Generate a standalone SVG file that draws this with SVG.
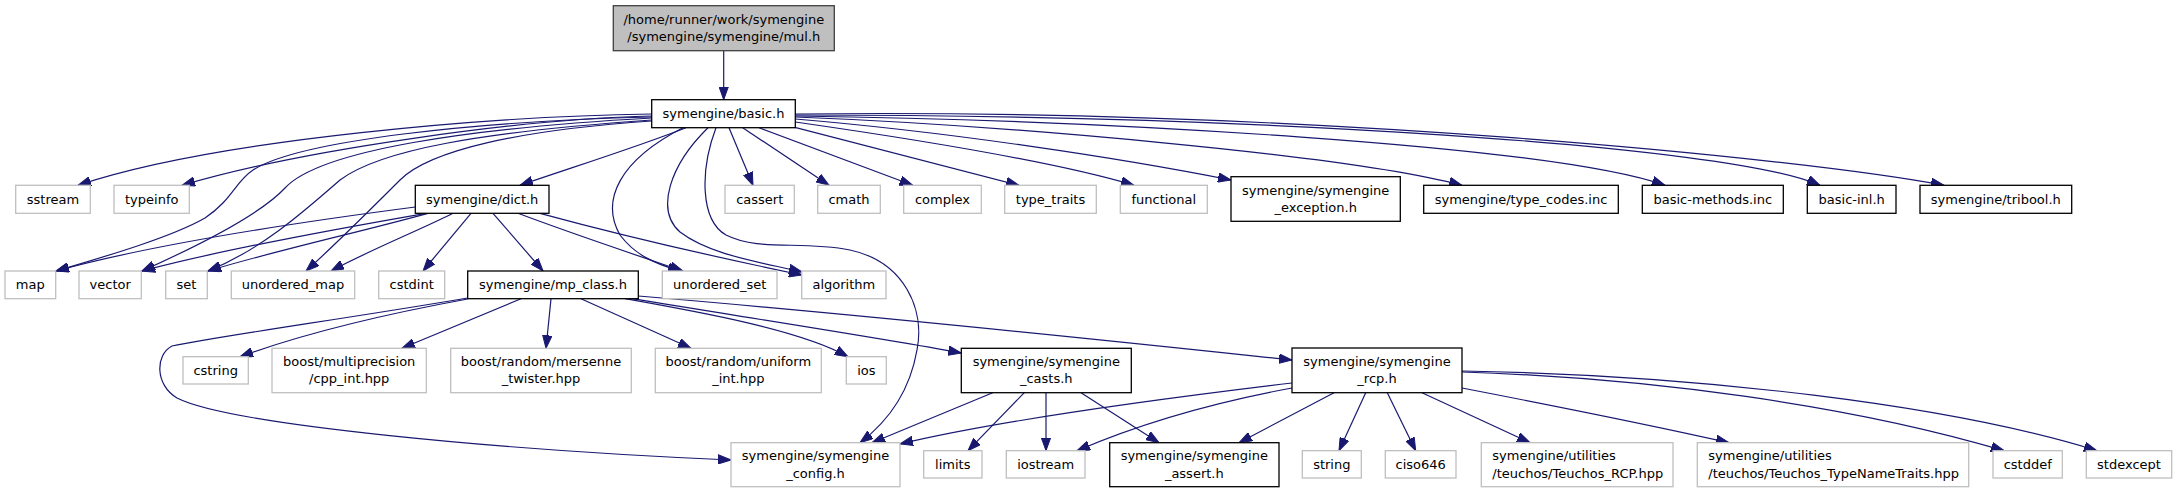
<svg xmlns="http://www.w3.org/2000/svg" width="2177" height="493" viewBox="0 0 2177 493">
<style>
rect.g{fill:#fff;stroke:#bfbfbf;stroke-width:1.3}
rect.b{fill:#fff;stroke:#000;stroke-width:1.3}
rect.m{fill:#bfbfbf;stroke:#404040;stroke-width:1.3}
text{font-family:"DejaVu Sans","Liberation Sans",sans-serif;font-size:13px;fill:#000;text-anchor:middle}
text.l{text-anchor:start}
#edges path{fill:none;stroke:#191970;stroke-width:1.2;marker-end:url(#a)}
</style>
<defs>
<marker id="a" markerUnits="userSpaceOnUse" markerWidth="14" markerHeight="10" refX="13" refY="5" orient="auto" viewBox="0 0 14 10">
<path d="M0,0.3 L13,5 L0,9.7z" fill="#191970" stroke="#191970" stroke-width="1"/>
</marker>
</defs>
<rect width="2177" height="493" fill="#fff"/>
<g id="edges">
<path d="M723.7,50.7 L723.7,99.7"/>
<path d="M651.7,114 C 500,116 220,138 78,185.3"/>
<path d="M651.7,116 C 520,119 300,150 182,185.3"/>
<path d="M651.7,117 C 480,121 300,140 253,170 C 235,182 232,200 205,218 C 170,238 100,258 56,271"/>
<path d="M651.7,118 C 470,128 320,150 285,188 C 260,215 200,245 142,271"/>
<path d="M651.7,120 C 480,132 380,150 340,180 C 300,215 260,250 208,271"/>
<path d="M651.7,121 C 520,130 430,150 400,180 C 370,210 335,245 306,271"/>
<path d="M686,127.7 C 640,146 570,168 520,185.3"/>
<path d="M683,127.7 C 620,160 600,200 620,235 C 635,255 655,264 681,271"/>
<path d="M708,127.7 C 670,165 655,210 680,232 C 710,255 760,262 802,272"/>
<path d="M716,127.7 C 700,170 700,220 726,235 C 760,252 800,240 850,250 C 905,262 925,310 917,350 C 910,390 890,420 860,442.7"/>
<path d="M729,127.7 L753,185.3"/>
<path d="M742.7,127.7 L829,185.3"/>
<path d="M759,127.7 L912.7,185.3"/>
<path d="M792,126.7 L1019,185.3"/>
<path d="M795.3,122 C 900,137 1050,160 1134,185.3"/>
<path d="M795.3,119 C 950,132 1120,158 1231,180"/>
<path d="M795.3,117 C 1000,125 1350,155 1462,185.3"/>
<path d="M795.3,116 C 1100,120 1550,145 1665,185.3"/>
<path d="M795.3,115 C 1250,115 1730,145 1820,185.3"/>
<path d="M795.3,114 C 1300,108 1800,158 1944,185.3"/>
<path d="M415.3,207 C 300,222 150,245 56,271"/>
<path d="M426,213.3 C 330,230 220,250 142,271"/>
<path d="M428,213.3 C 360,232 270,252 208,271"/>
<path d="M453,213.3 C 420,230 370,250 331,271"/>
<path d="M471,213.3 L423,271"/>
<path d="M493,213.3 L543,271"/>
<path d="M518,213.3 C 570,233 630,253 683,271"/>
<path d="M540,213.3 C 620,235 720,258 802,275"/>
<path d="M467.7,298 C 350,318 220,336 172,346 C 155,355 155,385 177,398 C 230,425 500,450 731,460"/>
<path d="M467.7,299 C 380,315 300,335 240,356.7"/>
<path d="M521,298.7 L402,348.3"/>
<path d="M551,298.7 L546,348.3"/>
<path d="M581,298.7 L691,348.3"/>
<path d="M625,298.7 C 700,312 800,330 848,356.7"/>
<path d="M632,298.7 C 750,318 880,338 961.3,353"/>
<path d="M638.3,296 C 900,318 1150,345 1292,360"/>
<path d="M992.7,392.7 L872,442.7"/>
<path d="M1024.3,392.7 L968,450.7"/>
<path d="M1046,392.7 L1046,450.7"/>
<path d="M1081,392.7 L1159,442.7"/>
<path d="M1292,383 C 1150,400 1000,420 900,444"/>
<path d="M1292,388 C 1200,405 1130,428 1077,450.7"/>
<path d="M1334,392.7 L1239,442.7"/>
<path d="M1365.7,392.7 L1339,450.7"/>
<path d="M1387.3,392.7 L1415.7,450.7"/>
<path d="M1422,392.7 L1530,442.7"/>
<path d="M1462,388 C 1550,405 1650,425 1729,442.7"/>
<path d="M1462,372 C 1650,378 1850,405 2004,450.7"/>
<path d="M1462,371 C 1700,375 1950,405 2097,450.7"/>
</g>
<g id="n_main"><rect class="m" x="613.3" y="5.7" width="221" height="45"/><text x="723.8" y="23.7">/home/runner/work/symengine</text><text x="723.8" y="41">/symengine/symengine/mul.h</text></g>
<g id="n_basic"><rect class="b" x="651.7" y="99.7" width="143.6" height="28"/><text x="723.5" y="118.2">symengine/basic.h</text></g>
<g id="n_sstream"><rect class="g" x="15.7" y="185.3" width="74.6" height="28"/><text x="53" y="203.8">sstream</text></g>
<g id="n_typeinfo"><rect class="g" x="114" y="185.3" width="75.3" height="28"/><text x="151.7" y="203.8">typeinfo</text></g>
<g id="n_dict"><rect class="b" x="415.3" y="185.3" width="133.7" height="28"/><text x="482.2" y="203.8">symengine/dict.h</text></g>
<g id="n_cassert"><rect class="g" x="725" y="185.3" width="69.3" height="28"/><text x="759.7" y="203.8">cassert</text></g>
<g id="n_cmath"><rect class="g" x="817.7" y="185.3" width="62.6" height="28"/><text x="849" y="203.8">cmath</text></g>
<g id="n_complex"><rect class="g" x="903.7" y="185.3" width="77.6" height="28"/><text x="942.5" y="203.8">complex</text></g>
<g id="n_type_traits"><rect class="g" x="1004.7" y="185.3" width="91.6" height="28"/><text x="1050.5" y="203.8">type_traits</text></g>
<g id="n_functional"><rect class="g" x="1120.3" y="185.3" width="87" height="28"/><text x="1163.8" y="203.8">functional</text></g>
<g id="n_exception"><rect class="b" x="1231" y="176.7" width="169.3" height="44.6"/><text x="1315.7" y="194.5">symengine/symengine</text><text x="1315.7" y="211.8">_exception.h</text></g>
<g id="n_type_codes"><rect class="b" x="1423.7" y="185.3" width="194.6" height="28"/><text x="1521" y="203.8">symengine/type_codes.inc</text></g>
<g id="n_basic_methods"><rect class="b" x="1642.3" y="185.3" width="141" height="28"/><text x="1712.8" y="203.8">basic-methods.inc</text></g>
<g id="n_basic_inl"><rect class="b" x="1807.3" y="185.3" width="88.7" height="28"/><text x="1851.7" y="203.8">basic-inl.h</text></g>
<g id="n_tribool"><rect class="b" x="1920" y="185.3" width="151.7" height="28"/><text x="1995.8" y="203.8">symengine/tribool.h</text></g>
<g id="n_map"><rect class="g" x="5" y="271" width="50.7" height="27.7"/><text x="30.3" y="289.3">map</text></g>
<g id="n_vector"><rect class="g" x="79" y="271" width="62.3" height="27.7"/><text x="110.2" y="289.3">vector</text></g>
<g id="n_set"><rect class="g" x="165.7" y="271" width="41.6" height="27.7"/><text x="186.5" y="289.3">set</text></g>
<g id="n_unordered_map"><rect class="g" x="231.3" y="271" width="123.4" height="27.7"/><text x="293" y="289.3">unordered_map</text></g>
<g id="n_cstdint"><rect class="g" x="378.7" y="271" width="66" height="27.7"/><text x="411.7" y="289.3">cstdint</text></g>
<g id="n_mp_class"><rect class="b" x="467.7" y="271" width="170.6" height="27.7"/><text x="553" y="289.3">symengine/mp_class.h</text></g>
<g id="n_unordered_set"><rect class="g" x="662.3" y="271" width="114.7" height="27.7"/><text x="719.7" y="289.3">unordered_set</text></g>
<g id="n_algorithm"><rect class="g" x="801.7" y="271" width="84.3" height="27.7"/><text x="843.8" y="289.3">algorithm</text></g>
<g id="n_cstring"><rect class="g" x="183" y="356.7" width="65.3" height="27.3"/><text x="215.7" y="374.8">cstring</text></g>
<g id="n_multiprecision"><rect class="g" x="272" y="348.3" width="154.3" height="44.4"/><text x="349.2" y="366">boost/multiprecision</text><text x="349.2" y="383.3">/cpp_int.hpp</text></g>
<g id="n_mersenne"><rect class="g" x="450.7" y="348.3" width="180.6" height="44.4"/><text x="541" y="366">boost/random/mersenne</text><text x="541" y="383.3">_twister.hpp</text></g>
<g id="n_uniform"><rect class="g" x="655.3" y="348.3" width="166" height="44.4"/><text x="738.3" y="366">boost/random/uniform</text><text x="738.3" y="383.3">_int.hpp</text></g>
<g id="n_ios"><rect class="g" x="846.3" y="356.7" width="40" height="27.3"/><text x="866.3" y="374.8">ios</text></g>
<g id="n_casts"><rect class="b" x="961.3" y="348.3" width="170" height="44.4"/><text x="1046.3" y="366">symengine/symengine</text><text x="1046.3" y="383.3">_casts.h</text></g>
<g id="n_rcp"><rect class="b" x="1292" y="348" width="170" height="44.7"/><text x="1377" y="366">symengine/symengine</text><text x="1377" y="383.3">_rcp.h</text></g>
<g id="n_config"><rect class="g" x="731" y="442.7" width="169" height="44"/><text x="815.5" y="460.2">symengine/symengine</text><text x="815.5" y="477.5">_config.h</text></g>
<g id="n_limits"><rect class="g" x="923.7" y="450.7" width="58.3" height="27.3"/><text x="952.8" y="468.8">limits</text></g>
<g id="n_iostream"><rect class="g" x="1006.3" y="450.7" width="78.7" height="27.3"/><text x="1045.7" y="468.8">iostream</text></g>
<g id="n_assert"><rect class="b" x="1109.7" y="442.7" width="169.3" height="44"/><text x="1194.3" y="460.2">symengine/symengine</text><text x="1194.3" y="477.5">_assert.h</text></g>
<g id="n_string"><rect class="g" x="1302.3" y="450.7" width="59" height="27.3"/><text x="1331.8" y="468.8">string</text></g>
<g id="n_ciso646"><rect class="g" x="1385.3" y="450.7" width="70.7" height="27.3"/><text x="1420.7" y="468.8">ciso646</text></g>
<g id="n_teuchos_rcp"><rect class="g" x="1481.3" y="442.7" width="191.7" height="44"/><text class="l" x="1492.3" y="460.2">symengine/utilities</text><text class="l" x="1492.3" y="477.5">/teuchos/Teuchos_RCP.hpp</text></g>
<g id="n_typenametraits"><rect class="g" x="1697.3" y="442.7" width="271.4" height="44"/><text class="l" x="1708.3" y="460.2">symengine/utilities</text><text class="l" x="1708.3" y="477.5">/teuchos/Teuchos_TypeNameTraits.hpp</text></g>
<g id="n_cstddef"><rect class="g" x="1993" y="450.7" width="69.3" height="27.3"/><text x="2027.7" y="468.8">cstddef</text></g>
<g id="n_stdexcept"><rect class="g" x="2086.3" y="450.7" width="85.4" height="27.3"/><text x="2129" y="468.8">stdexcept</text></g>
</svg>
